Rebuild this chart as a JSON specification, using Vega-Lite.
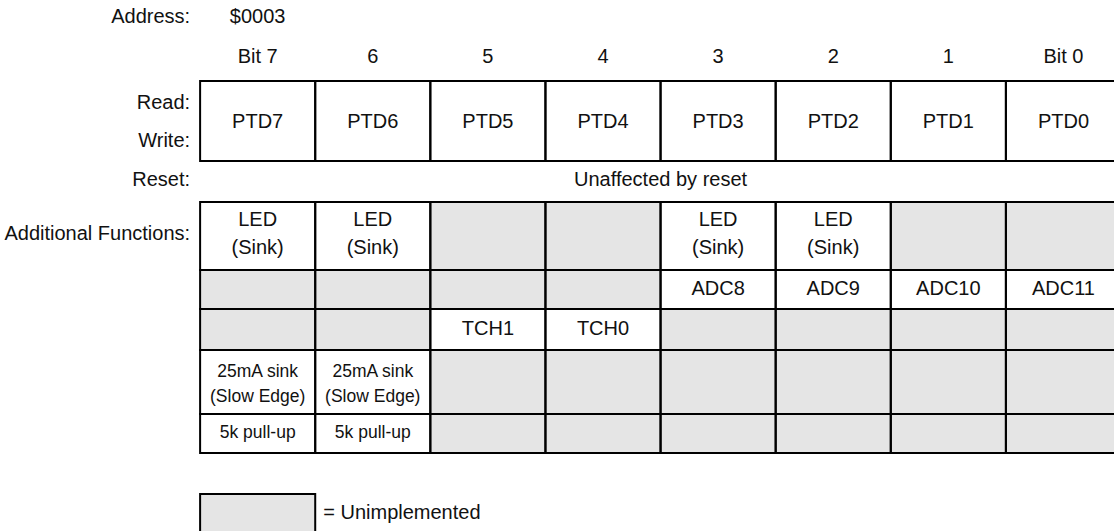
{
  "$schema": "https://vega.github.io/schema/vega-lite/v6.json",
  "width": 1114,
  "height": 531,
  "autosize": "none",
  "padding": 0,
  "background": "white",
  "config": {
    "view": {"stroke": null},
    "text": {"font": "Liberation Sans", "fontSize": 20, "color": "#111111", "baseline": "middle", "lineBreak": "\n"}
  },
  "datasets": {
    "cells": [
      {"col": "7", "row": 0, "rowEnd": 1, "status": "implemented"},
      {"col": "6", "row": 0, "rowEnd": 1, "status": "implemented"},
      {"col": "5", "row": 0, "rowEnd": 1, "status": "implemented"},
      {"col": "4", "row": 0, "rowEnd": 1, "status": "implemented"},
      {"col": "3", "row": 0, "rowEnd": 1, "status": "implemented"},
      {"col": "2", "row": 0, "rowEnd": 1, "status": "implemented"},
      {"col": "1", "row": 0, "rowEnd": 1, "status": "implemented"},
      {"col": "0", "row": 0, "rowEnd": 1, "status": "implemented"},
      {"col": "7", "row": 2, "rowEnd": 3, "status": "implemented"},
      {"col": "6", "row": 2, "rowEnd": 3, "status": "implemented"},
      {"col": "5", "row": 2, "rowEnd": 3, "status": "unimplemented"},
      {"col": "4", "row": 2, "rowEnd": 3, "status": "unimplemented"},
      {"col": "3", "row": 2, "rowEnd": 3, "status": "implemented"},
      {"col": "2", "row": 2, "rowEnd": 3, "status": "implemented"},
      {"col": "1", "row": 2, "rowEnd": 3, "status": "unimplemented"},
      {"col": "0", "row": 2, "rowEnd": 3, "status": "unimplemented"},
      {"col": "7", "row": 3, "rowEnd": 4, "status": "unimplemented"},
      {"col": "6", "row": 3, "rowEnd": 4, "status": "unimplemented"},
      {"col": "5", "row": 3, "rowEnd": 4, "status": "unimplemented"},
      {"col": "4", "row": 3, "rowEnd": 4, "status": "unimplemented"},
      {"col": "3", "row": 3, "rowEnd": 4, "status": "implemented"},
      {"col": "2", "row": 3, "rowEnd": 4, "status": "implemented"},
      {"col": "1", "row": 3, "rowEnd": 4, "status": "implemented"},
      {"col": "0", "row": 3, "rowEnd": 4, "status": "implemented"},
      {"col": "7", "row": 4, "rowEnd": 5, "status": "unimplemented"},
      {"col": "6", "row": 4, "rowEnd": 5, "status": "unimplemented"},
      {"col": "5", "row": 4, "rowEnd": 5, "status": "implemented"},
      {"col": "4", "row": 4, "rowEnd": 5, "status": "implemented"},
      {"col": "3", "row": 4, "rowEnd": 5, "status": "unimplemented"},
      {"col": "2", "row": 4, "rowEnd": 5, "status": "unimplemented"},
      {"col": "1", "row": 4, "rowEnd": 5, "status": "unimplemented"},
      {"col": "0", "row": 4, "rowEnd": 5, "status": "unimplemented"},
      {"col": "7", "row": 5, "rowEnd": 6, "status": "implemented"},
      {"col": "6", "row": 5, "rowEnd": 6, "status": "implemented"},
      {"col": "5", "row": 5, "rowEnd": 6, "status": "unimplemented"},
      {"col": "4", "row": 5, "rowEnd": 6, "status": "unimplemented"},
      {"col": "3", "row": 5, "rowEnd": 6, "status": "unimplemented"},
      {"col": "2", "row": 5, "rowEnd": 6, "status": "unimplemented"},
      {"col": "1", "row": 5, "rowEnd": 6, "status": "unimplemented"},
      {"col": "0", "row": 5, "rowEnd": 6, "status": "unimplemented"},
      {"col": "7", "row": 6, "rowEnd": 7, "status": "implemented"},
      {"col": "6", "row": 6, "rowEnd": 7, "status": "implemented"},
      {"col": "5", "row": 6, "rowEnd": 7, "status": "unimplemented"},
      {"col": "4", "row": 6, "rowEnd": 7, "status": "unimplemented"},
      {"col": "3", "row": 6, "rowEnd": 7, "status": "unimplemented"},
      {"col": "2", "row": 6, "rowEnd": 7, "status": "unimplemented"},
      {"col": "1", "row": 6, "rowEnd": 7, "status": "unimplemented"},
      {"col": "0", "row": 6, "rowEnd": 7, "status": "unimplemented"},
      {"col": "7", "row": 8, "rowEnd": 9, "status": "unimplemented"}
    ],
    "texts": [
      {"col": "7", "row": -2, "label": "$0003", "group": "cell"},
      {"col": "7", "row": -1, "label": "Bit 7", "group": "cell"},
      {"col": "6", "row": -1, "label": "6", "group": "cell"},
      {"col": "5", "row": -1, "label": "5", "group": "cell"},
      {"col": "4", "row": -1, "label": "4", "group": "cell"},
      {"col": "3", "row": -1, "label": "3", "group": "cell"},
      {"col": "2", "row": -1, "label": "2", "group": "cell"},
      {"col": "1", "row": -1, "label": "1", "group": "cell"},
      {"col": "0", "row": -1, "label": "Bit 0", "group": "cell"},
      {"col": "7", "row": 0, "label": "PTD7", "group": "cell"},
      {"col": "6", "row": 0, "label": "PTD6", "group": "cell"},
      {"col": "5", "row": 0, "label": "PTD5", "group": "cell"},
      {"col": "4", "row": 0, "label": "PTD4", "group": "cell"},
      {"col": "3", "row": 0, "label": "PTD3", "group": "cell"},
      {"col": "2", "row": 0, "label": "PTD2", "group": "cell"},
      {"col": "1", "row": 0, "label": "PTD1", "group": "cell"},
      {"col": "0", "row": 0, "label": "PTD0", "group": "cell"},
      {"col": "7", "row": 2, "label": "LED\n(Sink)", "group": "cell2"},
      {"col": "6", "row": 2, "label": "LED\n(Sink)", "group": "cell2"},
      {"col": "3", "row": 2, "label": "LED\n(Sink)", "group": "cell2"},
      {"col": "2", "row": 2, "label": "LED\n(Sink)", "group": "cell2"},
      {"col": "3", "row": 3, "label": "ADC8", "group": "cell"},
      {"col": "2", "row": 3, "label": "ADC9", "group": "cell"},
      {"col": "1", "row": 3, "label": "ADC10", "group": "cell"},
      {"col": "0", "row": 3, "label": "ADC11", "group": "cell"},
      {"col": "5", "row": 4, "label": "TCH1", "group": "cell"},
      {"col": "4", "row": 4, "label": "TCH0", "group": "cell"},
      {"col": "7", "row": 5, "label": "25mA sink\n(Slow Edge)", "group": "note2"},
      {"col": "6", "row": 5, "label": "25mA sink\n(Slow Edge)", "group": "note2"},
      {"col": "7", "row": 6, "label": "5k pull-up", "group": "note"},
      {"col": "6", "row": 6, "label": "5k pull-up", "group": "note"},
      {"col": "lbl", "row": -2, "label": "Address:", "group": "rowlabel"},
      {"col": "lbl", "row": 0, "label": "Read:\nWrite:", "group": "rowlabel2"},
      {"col": "lbl", "row": 1, "label": "Reset:", "group": "rowlabel"},
      {"col": "lbl", "row": 2, "label": "Additional Functions:", "group": "rowlabel"},
      {"col": "4", "row": 1, "label": "Unaffected by reset", "group": "span"},
      {"col": "6", "row": 8, "label": "= Unimplemented", "group": "legend"}
    ]
  },
  "resolve": {"scale": {"y": "independent"}},
  "layer": [
    {
      "data": {"name": "cells"},
      "mark": {"type": "rect", "strokeWidth": 0},
      "encoding": {
        "x": {"field": "col", "type": "ordinal", "axis": null,
              "scale": {"domain": ["lbl", "7", "6", "5", "4", "3", "2", "1", "0"], "range": [85, 1121], "paddingInner": 0, "paddingOuter": 0}},
        "y": {"field": "row", "type": "quantitative", "axis": null,
              "scale": {"domain": [0, 1, 2, 3, 4, 5, 6, 7, 8, 9], "range": [81, 161, 202, 270, 309, 350, 414, 453, 494, 545], "zero": false, "nice": false}},
        "y2": {"field": "rowEnd"},
        "fill": {"field": "status", "type": "nominal", "legend": null,
                 "scale": {"domain": ["implemented", "unimplemented"], "range": ["#ffffff", "#e5e5e5"]}}
      }
    },
    {
      "data": {"name": "cells"},
      "mark": {"type": "rect", "fill": null, "fillOpacity": 0, "stroke": "#000000", "strokeWidth": 2},
      "encoding": {
        "x": {"field": "col", "type": "ordinal", "axis": null,
              "scale": {"domain": ["lbl", "7", "6", "5", "4", "3", "2", "1", "0"], "range": [85, 1121], "paddingInner": 0, "paddingOuter": 0}},
        "y": {"field": "row", "type": "quantitative", "axis": null,
              "scale": {"domain": [0, 1, 2, 3, 4, 5, 6, 7, 8, 9], "range": [81, 161, 202, 270, 309, 350, 414, 453, 494, 545], "zero": false, "nice": false}},
        "y2": {"field": "rowEnd"}
      }
    },
    {
      "data": {"name": "texts"},
      "transform": [{"filter": "datum.group === 'cell'"}],
      "mark": {"type": "text", "align": "center"},
      "encoding": {
        "x": {"field": "col", "type": "ordinal", "axis": null,
              "scale": {"domain": ["lbl", "7", "6", "5", "4", "3", "2", "1", "0"], "range": [85, 1121], "paddingInner": 0, "paddingOuter": 0}},
        "y": {"field": "row", "type": "quantitative", "axis": null,
              "scale": {"domain": [-2, -1, 0, 1, 2, 3, 4, 5, 6, 7, 8], "range": [17, 57, 122, 180, 234, 289, 329, 383, 433, 473, 513], "zero": false, "nice": false}},
        "text": {"field": "label"}
      }
    },
    {
      "data": {"name": "texts"},
      "transform": [{"filter": "datum.group === 'cell2'"}],
      "mark": {"type": "text", "align": "center", "lineHeight": 28, "dy": -14},
      "encoding": {
        "x": {"field": "col", "type": "ordinal", "axis": null,
              "scale": {"domain": ["lbl", "7", "6", "5", "4", "3", "2", "1", "0"], "range": [85, 1121], "paddingInner": 0, "paddingOuter": 0}},
        "y": {"field": "row", "type": "quantitative", "axis": null,
              "scale": {"domain": [-2, -1, 0, 1, 2, 3, 4, 5, 6, 7, 8], "range": [17, 57, 122, 180, 234, 289, 329, 383, 433, 473, 513], "zero": false, "nice": false}},
        "text": {"field": "label"}
      }
    },
    {
      "data": {"name": "texts"},
      "transform": [{"filter": "datum.group === 'note'"}],
      "mark": {"type": "text", "align": "center", "fontSize": 17.5},
      "encoding": {
        "x": {"field": "col", "type": "ordinal", "axis": null,
              "scale": {"domain": ["lbl", "7", "6", "5", "4", "3", "2", "1", "0"], "range": [85, 1121], "paddingInner": 0, "paddingOuter": 0}},
        "y": {"field": "row", "type": "quantitative", "axis": null,
              "scale": {"domain": [-2, -1, 0, 1, 2, 3, 4, 5, 6, 7, 8], "range": [17, 57, 122, 180, 234, 289, 329, 383, 433, 473, 513], "zero": false, "nice": false}},
        "text": {"field": "label"}
      }
    },
    {
      "data": {"name": "texts"},
      "transform": [{"filter": "datum.group === 'note2'"}],
      "mark": {"type": "text", "align": "center", "fontSize": 17.5, "lineHeight": 25, "dy": -11.5},
      "encoding": {
        "x": {"field": "col", "type": "ordinal", "axis": null,
              "scale": {"domain": ["lbl", "7", "6", "5", "4", "3", "2", "1", "0"], "range": [85, 1121], "paddingInner": 0, "paddingOuter": 0}},
        "y": {"field": "row", "type": "quantitative", "axis": null,
              "scale": {"domain": [-2, -1, 0, 1, 2, 3, 4, 5, 6, 7, 8], "range": [17, 57, 122, 180, 234, 289, 329, 383, 433, 473, 513], "zero": false, "nice": false}},
        "text": {"field": "label"}
      }
    },
    {
      "data": {"name": "texts"},
      "transform": [{"filter": "datum.group === 'rowlabel'"}],
      "mark": {"type": "text", "align": "right", "dx": -10},
      "encoding": {
        "x": {"field": "col", "type": "ordinal", "axis": null, "bandPosition": 1,
              "scale": {"domain": ["lbl", "7", "6", "5", "4", "3", "2", "1", "0"], "range": [85, 1121], "paddingInner": 0, "paddingOuter": 0}},
        "y": {"field": "row", "type": "quantitative", "axis": null,
              "scale": {"domain": [-2, -1, 0, 1, 2, 3, 4, 5, 6, 7, 8], "range": [17, 57, 122, 180, 234, 289, 329, 383, 433, 473, 513], "zero": false, "nice": false}},
        "text": {"field": "label"}
      }
    },
    {
      "data": {"name": "texts"},
      "transform": [{"filter": "datum.group === 'rowlabel2'"}],
      "mark": {"type": "text", "align": "right", "dx": -10, "lineHeight": 38, "dy": -19},
      "encoding": {
        "x": {"field": "col", "type": "ordinal", "axis": null, "bandPosition": 1,
              "scale": {"domain": ["lbl", "7", "6", "5", "4", "3", "2", "1", "0"], "range": [85, 1121], "paddingInner": 0, "paddingOuter": 0}},
        "y": {"field": "row", "type": "quantitative", "axis": null,
              "scale": {"domain": [-2, -1, 0, 1, 2, 3, 4, 5, 6, 7, 8], "range": [17, 57, 122, 180, 234, 289, 329, 383, 433, 473, 513], "zero": false, "nice": false}},
        "text": {"field": "label"}
      }
    },
    {
      "data": {"name": "texts"},
      "transform": [{"filter": "datum.group === 'span'"}],
      "mark": {"type": "text", "align": "center"},
      "encoding": {
        "x": {"field": "col", "type": "ordinal", "axis": null, "bandPosition": 1,
              "scale": {"domain": ["lbl", "7", "6", "5", "4", "3", "2", "1", "0"], "range": [85, 1121], "paddingInner": 0, "paddingOuter": 0}},
        "y": {"field": "row", "type": "quantitative", "axis": null,
              "scale": {"domain": [-2, -1, 0, 1, 2, 3, 4, 5, 6, 7, 8], "range": [17, 57, 122, 180, 234, 289, 329, 383, 433, 473, 513], "zero": false, "nice": false}},
        "text": {"field": "label"}
      }
    },
    {
      "data": {"name": "texts"},
      "transform": [{"filter": "datum.group === 'legend'"}],
      "mark": {"type": "text", "align": "left", "dx": 8},
      "encoding": {
        "x": {"field": "col", "type": "ordinal", "axis": null, "bandPosition": 0,
              "scale": {"domain": ["lbl", "7", "6", "5", "4", "3", "2", "1", "0"], "range": [85, 1121], "paddingInner": 0, "paddingOuter": 0}},
        "y": {"field": "row", "type": "quantitative", "axis": null,
              "scale": {"domain": [-2, -1, 0, 1, 2, 3, 4, 5, 6, 7, 8], "range": [17, 57, 122, 180, 234, 289, 329, 383, 433, 473, 513], "zero": false, "nice": false}},
        "text": {"field": "label"}
      }
    }
  ]
}
